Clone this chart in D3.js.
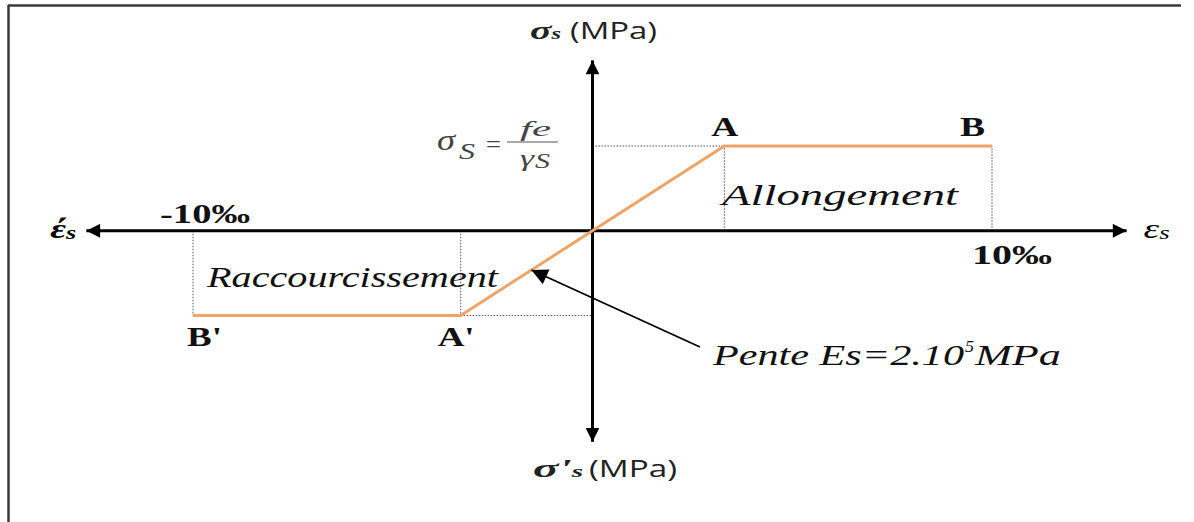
<!DOCTYPE html>
<html><head><meta charset="utf-8">
<script src="https://cdn.jsdelivr.net/npm/d3@7"></script>
<style>
html,body{margin:0;padding:0;background:#fff;}
svg{display:block;}
</style></head>
<body>
<svg id="chart" width="1194" height="522"></svg>
<script>
// ---- data ----
const pointLabels = ["B'", "A'", "A", "B"];
const strainPts = [-10, -3.3, 3.3, 10];      // ‰
const stressPts = [-1, -1, 1, 1];             // in units of fe/γs
const strainTicks = [-10, 10];
const strainTickLabels = ["-10‰", "10‰"];
const xAxisExtent = [-12.67, 13.37];
const yAxisExtent = [-2.49, 2.01];
const regionLabels = ["Raccourcissement", "Allongement"];

const svg = d3.select("#chart");
const x = d3.scaleLinear().domain([-10, 10]).range([193, 992]);
const y = d3.scaleLinear().domain([-1, 1]).range([315.5, 146]);
const X0 = x(0), Y0 = y(0);

const serif = "'Liberation Serif','Times New Roman',serif";
const sans = "'Open Sans','Liberation Sans',sans-serif";

function txt(parent, s, px, py, len, opts) {
  const t = parent.append("text").attr("x", px).attr("y", py)
    .attr("font-family", opts.family || serif)
    .attr("font-size", opts.size || 24)
    .attr("font-style", opts.italic ? "italic" : "normal")
    .attr("font-weight", opts.bold ? "bold" : "normal")
    .attr("fill", opts.fill || "#111")
    .text(s);
  if (len) t.attr("textLength", len).attr("lengthAdjust", "spacingAndGlyphs");
  return t;
}

// frame
svg.append("line").attr("x1", 8).attr("x2", 1181).attr("y1", 5.5).attr("y2", 5.5)
  .attr("stroke", "#3a3a3a").attr("stroke-width", 2.5);
svg.append("line").attr("x1", 8.5).attr("x2", 8.5).attr("y1", 5).attr("y2", 522)
  .attr("stroke", "#3a3a3a").attr("stroke-width", 2.5);

// arrow markers
const defs = svg.append("defs");
defs.append("marker").attr("id", "ah").attr("viewBox", "0 0 10 10")
  .attr("refX", 10).attr("refY", 5).attr("markerWidth", 5.3).attr("markerHeight", 4.6)
  .attr("markerUnits", "strokeWidth").attr("orient", "auto")
  .append("path").attr("d", "M0,0 L10,5 L0,10 Z").attr("fill", "#000");
defs.append("marker").attr("id", "ah2").attr("viewBox", "0 0 10 10")
  .attr("refX", 10).attr("refY", 5).attr("markerWidth", 10).attr("markerHeight", 9)
  .attr("markerUnits", "strokeWidth").attr("orient", "auto")
  .append("path").attr("d", "M0,0 L10,5 L0,10 Z").attr("fill", "#000");

// dotted guides
const dots = [];
strainPts.forEach((e, i) => { dots.push([x(e), Y0, x(e), y(stressPts[i])]); });
dots.push([X0, y(1), x(strainPts[2]), y(1)]);
dots.push([x(strainPts[1]), y(-1), X0, y(-1)]);
svg.append("g").selectAll("line").data(dots).join("line")
  .attr("x1", d => d[0]).attr("y1", d => d[1]).attr("x2", d => d[2]).attr("y2", d => d[3])
  .attr("stroke", "#555").attr("stroke-width", 1).attr("stroke-dasharray", "1.5,1.5");

// axes
[xAxisExtent[1], xAxisExtent[0]].forEach(v => {
  svg.append("line").attr("x1", X0).attr("x2", x(v)).attr("y1", Y0).attr("y2", Y0)
    .attr("stroke", "#000").attr("stroke-width", 3).attr("marker-end", "url(#ah)");
});
[yAxisExtent[1], yAxisExtent[0]].forEach(v => {
  svg.append("line").attr("x1", X0).attr("x2", X0).attr("y1", Y0).attr("y2", y(v))
    .attr("stroke", "#000").attr("stroke-width", 3).attr("marker-end", "url(#ah)");
});

// constitutive law
const pts = strainPts.map((e, i) => [x(e), y(stressPts[i])]);
svg.append("path").attr("d", d3.line()(pts)).attr("fill", "none")
  .attr("stroke", "#eea466").attr("stroke-width", 3);

// point labels: [dx, baseline dy, width]
const lblPos = [[-6, 30.5, 35], [-23, 30.5, 37], [-13, -10, 27], [-32, -10, 25]];
pointLabels.forEach((s, i) => {
  txt(svg, s, pts[i][0] + lblPos[i][0], pts[i][1] + lblPos[i][1], lblPos[i][2], {bold: true, size: 27});
});

// tick labels
const tickPos = [[-33, -8, 90], [-20, 33, 80]];
strainTicks.forEach((v, i) => {
  txt(svg, strainTickLabels[i], x(v) + tickPos[i][0], Y0 + tickPos[i][1], tickPos[i][2], {bold: true, size: 27});
});

// region labels
txt(svg, regionLabels[0], 207, Y0 + 56, 291, {italic: true, size: 30});
txt(svg, regionLabels[1], 722, Y0 - 26, 236, {italic: true, size: 30});

// horizontal axis names
const eR = svg.append("text").attr("x", x(xAxisExtent[1]) + 17).attr("y", Y0 + 7)
  .attr("font-family", serif).attr("font-style", "italic").attr("font-size", 28)
  .attr("textLength", 26).attr("lengthAdjust", "spacingAndGlyphs");
eR.append("tspan").text("ε");
eR.append("tspan").attr("font-size", 19).attr("dy", 1).text("s");
const eL = svg.append("text").attr("x", x(xAxisExtent[0]) - 36).attr("y", Y0 + 7)
  .attr("font-family", serif).attr("font-style", "italic").attr("font-weight", "bold").attr("font-size", 28)
  .attr("textLength", 26).attr("lengthAdjust", "spacingAndGlyphs");
eL.append("tspan").text("έ");
eL.append("tspan").attr("font-size", 19).attr("dy", 1).text("s");

// vertical axis names
function sigLabel(prefix, px, py, w1, w2, gap) {
  const g = svg.append("g");
  const t = g.append("text").attr("x", px).attr("y", py)
    .attr("font-family", serif).attr("font-style", "italic").attr("font-weight", "bold")
    .attr("font-size", 26).attr("fill", "#222")
    .attr("textLength", w1).attr("lengthAdjust", "spacingAndGlyphs");
  t.append("tspan").text(prefix);
  t.append("tspan").attr("font-size", 16).text("s");
  txt(g, "(MPa)", px + w1 + gap, py, w2, {family: sans, size: 24, fill: "#222"});
}
sigLabel("σ", 530, 39, 31, 87, 9);
sigLabel("σ'", 533, 477, 50, 88, 6);

// formula σS = fe / γS
const fg = svg.append("g");
txt(fg, "σ", 437, 150, 18, {italic: true, size: 30, fill: "#444"});
txt(fg, "S", 459, 159, 16, {italic: true, size: 24, fill: "#444"});
txt(fg, "=", 486, 152, 15, {size: 24, fill: "#444"});
fg.append("line").attr("x1", 507).attr("x2", 558).attr("y1", 142).attr("y2", 142)
  .attr("stroke", "#555").attr("stroke-width", 1.2);
txt(fg, "fe", 520, 136, 31, {italic: true, size: 22, fill: "#444"});
txt(fg, "γ", 520, 166, 14, {italic: true, size: 24, fill: "#444"});
txt(fg, "S", 535, 168, 15, {italic: true, size: 22, fill: "#444"});

// slope pointer
const tipE = -1.53;
svg.append("line").attr("x1", 700).attr("y1", 347)
  .attr("x2", x(tipE)).attr("y2", Y0 + (Y0 - y(1)) * (-tipE) / strainPts[2])
  .attr("stroke", "#000").attr("stroke-width", 1.8).attr("marker-end", "url(#ah2)");
txt(svg, "Pente  Es=2.10", 713, 365, 251, {italic: true, size: 30});
txt(svg, "5", 965, 352, 9, {italic: true, size: 17});
txt(svg, "MPa", 975, 365, 86, {italic: true, size: 30});
</script>
</body></html>
